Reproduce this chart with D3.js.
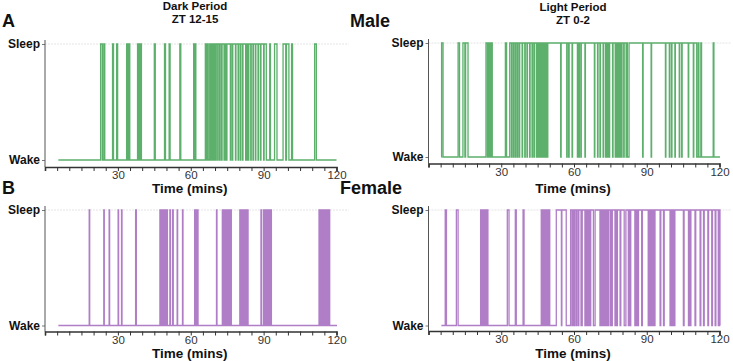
<!DOCTYPE html>
<html><head><meta charset="utf-8">
<script src="https://cdn.jsdelivr.net/npm/d3@7"></script>
<style>
html,body{margin:0;padding:0;background:#fff;}
text{font-family:"Liberation Sans",Arial,sans-serif;}
</style></head>
<body><svg id="chart" width="733" height="361"></svg>
<script>
// ---- data: times (minutes) at which the state toggles (starts at Wake) ----
const stateLabels = ["Wake", "Sleep"];
const xTickValues = [0,5,10,15,20,25,30,35,40,45,50,55,60,65,70,75,80,85,90,95,100,105,110,115,120];
const xTickLabels = [30, 60, 90, 120];
const recordStart = [5.5, 5.3, 5.5, 5.3];
const recordEnd = [120.0, 120.2, 120.2, 120.3];

const maleDarkToggles = [22.9,23.6, 24.2,24.6, 27.8,28.2, 29.5,29.9, 33.6,34.1, 34.5,34.9, 38.1,38.5, 38.8,39.1, 39.3,39.7,
  45.0,45.4, 49.2,49.6, 51.1,51.5, 55.5,55.9, 61.2,61.5, 61.8,62.1, 66.0,66.4, 66.8,67.2,
  67.8, 68.2,68.45, 68.9,69.1, 69.6,69.8, 70.3,70.5, 71.1,71.3, 71.9,72.1, 72.7,72.9, 73.7,73.9, 74.4,74.9,
  76.3,76.5, 77.1,77.3, 78.4,78.6, 79.5,79.7, 80.4,80.6, 81.3,81.5, 82.6,82.8, 83.2,83.4, 83.7,83.9,
  84.7,84.9, 85.6,85.8, 86.6,86.8, 87.7,87.9, 88.7,88.9, 90.0,90.2, 91.1,
  92.5,92.8, 94.5,95.5, 98.0,99.1, 99.4,100.4, 101.5,101.9, 111.0,111.7];

const maleLightToggles = [5.4,6.0, 12.2,12.8, 14.2,15.0, 15.3,16.3, 23.7,24.3, 24.5,25.0, 25.2,25.6, 25.8,26.3, 31.7,32.2,
  33.5, 34.2,34.4, 35.0,35.2, 35.8,36.0, 36.6,36.8, 37.4,37.6, 38.6,38.8, 39.7,39.9, 40.6,40.8, 41.7,41.9,
  42.7,42.9, 43.5,43.7, 44.5,44.7, 45.2,45.4, 45.6,45.8, 46.0,46.2, 46.4,46.6, 46.8,47.0, 47.2,47.4, 47.6,47.8,
  48.0,48.2, 48.4,48.6, 49.0,49.2, 54.5,54.7, 57.0,57.2, 57.8,58.0, 59.2,59.4, 61.4,61.6, 62.0,62.2, 62.8,63.0,
  64.5,64.7, 68.4,68.6, 69.7,69.9, 70.7,70.9, 72.0,72.2, 73.0,73.2, 73.5,73.7, 74.0,74.2, 74.5,74.7, 75.9,76.1,
  77.0,77.2, 77.5,77.7, 78.0,78.2, 78.5,78.7, 79.0,79.2, 79.6,79.8, 80.5,80.7, 81.5,81.7, 82.0,82.7, 88.3,88.5,
  91.8,92.0, 97.7,97.9, 99.3,99.5, 100.2,100.4, 101.6,101.8, 103.4,103.6, 104.4,104.6, 107.1,107.3, 109.2,109.4,
  110.6, 111.2,111.5, 112.3,112.6, 117.4,117.7];

const femaleDarkToggles = [18.2,18.4, 24.2,24.4, 26.4,26.6, 30.1,30.3, 31.5,31.7, 37.3,37.6,
  47.3,47.45, 47.55,47.7, 47.8,47.95, 48.05,48.2, 48.3,48.45, 48.55,48.7, 48.8,48.95, 49.05,49.2, 49.3,49.45,
  49.55,49.7, 49.8,49.95, 50.05,50.2, 50.25,50.4,
  51.4,51.6, 52.5,52.8, 54.4,54.6, 56.6,56.8,
  61.6,61.75, 61.85,62.0, 62.1,62.25, 62.35,62.5, 62.6,62.75, 62.85,63.0,
  70.6,70.8,
  73.0,73.15, 73.25,73.4, 73.5,73.65, 73.75,73.9, 74.0,74.15, 74.25,74.4, 74.5,74.65, 74.75,74.9, 75.0,75.15,
  75.25,75.4, 75.5,75.65, 75.75,75.9, 76.0,76.15, 76.25,76.4, 76.5,76.7,
  80.2,80.4, 80.7,80.9,
  81.4,81.55, 81.65,81.8, 81.9,82.05, 82.15,82.3, 82.4,82.55, 82.65,82.8, 82.9,83.05, 83.15,83.3, 83.4,83.6,
  88.9,89.1,
  89.9,90.05, 90.15,90.3, 90.4,90.55, 90.65,90.8, 90.9,91.05, 91.15,91.3, 91.4,91.55, 91.65,91.8, 91.9,92.05,
  92.15,92.3, 92.4,92.55, 92.65,92.8, 92.9,93.2,
  112.8,112.95, 113.05,113.2, 113.3,113.45, 113.55,113.7, 113.8,113.95, 114.05,114.2, 114.3,114.45, 114.55,114.7,
  114.8,114.95, 115.05,115.2, 115.3,115.45, 115.55,115.7, 115.8,115.95, 116.05,116.2, 116.3,116.5,
  116.8,117.2];

const femaleLightToggles = [6.9,7.4, 11.5,12.2,
  21.5,21.65, 21.75,21.9, 22.0,22.15, 22.25,22.4, 22.5,22.65, 22.75,22.9, 23.0,23.15, 23.25,23.4, 23.5,23.65,
  23.75,23.9, 24.0,24.15, 24.25,24.5,
  32.5,33.2, 35.8,36.2, 39.0,39.4,
  46.5,46.65, 46.75,46.9, 47.0,47.15, 47.25,47.4, 47.5,47.65, 47.75,47.9, 48.0,48.15, 48.25,48.4, 48.5,48.65,
  48.75,48.9, 49.0,49.15, 49.25,49.4, 49.5,49.65, 49.75,50.0,
  52.7,54.8, 55.0,56.8, 58.6,
  59.2,59.4, 59.9,60.2, 60.8,61.1, 61.7,62.0, 62.9,63.4, 64.5,64.8, 65.2,65.5, 65.9,66.2, 66.6,66.9, 68.0,68.7,
  70.7,70.9, 71.1,71.3, 71.5,71.7, 71.9,72.1, 72.3,72.5, 72.7,72.9, 73.1,73.3, 73.5,73.7, 73.9,74.2,
  74.9,75.2, 75.5,75.8, 76.9,77.2, 77.6,77.9, 79.0,79.3, 80.7,81.4, 82.4,82.7, 83.1,83.4, 85.1,85.4, 85.8,86.1,
  86.3,86.6, 87.9,88.2,
  90.6,90.8, 91.0,91.2, 91.4,91.6, 91.8,92.0, 92.2,92.4, 92.6,92.8, 93.0,93.4,
  95.5,95.8, 96.9,97.2, 99.6,99.9, 100.2,100.5, 100.8,101.1, 101.3,101.6, 105.1,105.4, 107.2,107.5, 107.9,108.2,
  109.9,110.2, 112.0,112.3, 113.4,113.7, 115.2,115.5, 116.8,117.1, 118.2,118.5, 119.5,119.8, 120.2];

const periodTitles = ["Dark Period", "Light Period"];
const periodSubtitles = ["ZT 12-15", "ZT 0-2"];
const sexLabels = ["Male", "Female"];
const panelLetters = ["A", "B"];
const xAxisTitle = "Time (mins)";

// ---- layout ----
const svg = d3.select("#chart");
const GREEN = "#5cb06c", PURPLE = "#b07ec6";
const panels = [
  {toggles: maleDarkToggles, i: 0, color: GREEN, x0: 45, x1: 336.5, ySleep: 44, yWake: 160, axisY: 167, titleY: 192.5},
  {toggles: maleLightToggles, i: 1, color: GREEN, x0: 428.5, x1: 719.5, ySleep: 43, yWake: 157, axisY: 163.5, titleY: 192.5},
  {toggles: femaleDarkToggles, i: 2, color: PURPLE, x0: 45, x1: 336.5, ySleep: 210, yWake: 325.5, axisY: 331.5, titleY: 357.5},
  {toggles: femaleLightToggles, i: 3, color: PURPLE, x0: 428.5, x1: 719.5, ySleep: 210, yWake: 325.5, axisY: 331, titleY: 357.5}
];

panels.forEach(p => {
  const x = d3.scaleLinear().domain([0, 120]).range([p.x0, p.x1]);
  const y = d3.scalePoint().domain(stateLabels).range([p.yWake, p.ySleep]);
  const g = svg.append("g");

  // sleep gridline
  g.append("line").attr("x1", x(0)).attr("x2", x(125)).attr("y1", y("Sleep")).attr("y2", y("Sleep"))
    .attr("stroke", "#e4e4e4").attr("stroke-width", 1).attr("stroke-dasharray", "2,1");

  // build step points
  const pts = [{t: recordStart[p.i], s: 0}];
  let s = 0;
  p.toggles.forEach(t => { s = 1 - s; pts.push({t, s}); });
  pts.push({t: recordEnd[p.i], s});
  const line = d3.line().x(d => x(d.t)).y(d => y(stateLabels[d.s])).curve(d3.curveStepAfter);
  g.append("path").datum(pts).attr("d", line).attr("fill", "none")
    .attr("stroke", p.color).attr("stroke-width", 1.3).attr("stroke-linejoin", "miter");

  // y axis
  const ya = d3.axisLeft(y).tickSize(3).tickPadding(2);
  const yg = g.append("g").attr("transform", `translate(${p.x0},0)`).call(ya);
  yg.select(".domain").remove();
  yg.append("line").attr("x1", 0).attr("x2", 0).attr("y1", p.ySleep - 4).attr("y2", p.axisY)
    .attr("stroke", "#555").attr("stroke-width", 1);
  yg.selectAll(".tick line").attr("stroke", "#777");
  yg.selectAll(".tick text").attr("font-size", 12).attr("font-weight", "bold").attr("fill", "#111")
    .attr("font-family", "Liberation Sans, Arial, sans-serif");

  // x axis
  const xa = d3.axisBottom(x).tickValues(xTickValues).tickSize(4).tickPadding(0)
    .tickFormat(d => xTickLabels.includes(d) ? d : "");
  const xg = g.append("g").attr("transform", `translate(0,${p.axisY})`).call(xa);
  xg.select(".domain").attr("stroke", "#333").attr("stroke-width", 1.6);
  xg.selectAll(".tick line").attr("stroke", "#333");
  xg.selectAll(".tick text").attr("font-size", 11.5).attr("fill", "#333")
    .attr("font-family", "Liberation Sans, Arial, sans-serif");

  g.append("text").attr("x", (p.x0 + p.x1) / 2 - 1).attr("y", p.titleY).attr("text-anchor", "middle")
    .attr("font-size", 13.5).attr("font-weight", "bold").attr("fill", "#111").text(xAxisTitle);
});

// period titles
[[195, 0], [573, 1]].forEach(([cx, k]) => {
  svg.append("text").attr("x", cx).attr("y", 10 + k).attr("text-anchor", "middle")
    .attr("font-size", 11.5).attr("font-weight", "bold").attr("fill", "#111").text(periodTitles[k]);
  svg.append("text").attr("x", cx).attr("y", 23 + k).attr("text-anchor", "middle")
    .attr("font-size", 11.5).attr("font-weight", "bold").attr("fill", "#111").text(periodSubtitles[k]);
});

// panel letters and sex labels
[[27, 0], [194, 1]].forEach(([by, k]) => {
  svg.append("text").attr("x", 2).attr("y", by).attr("font-size", 18).attr("font-weight", "bold")
    .attr("fill", "#111").text(panelLetters[k]);
});
svg.append("text").attr("x", 350).attr("y", 27).attr("font-size", 18).attr("font-weight", "bold")
  .attr("fill", "#111").text(sexLabels[0]);
svg.append("text").attr("x", 340).attr("y", 194).attr("font-size", 18).attr("font-weight", "bold")
  .attr("fill", "#111").text(sexLabels[1]);
</script></body></html>
